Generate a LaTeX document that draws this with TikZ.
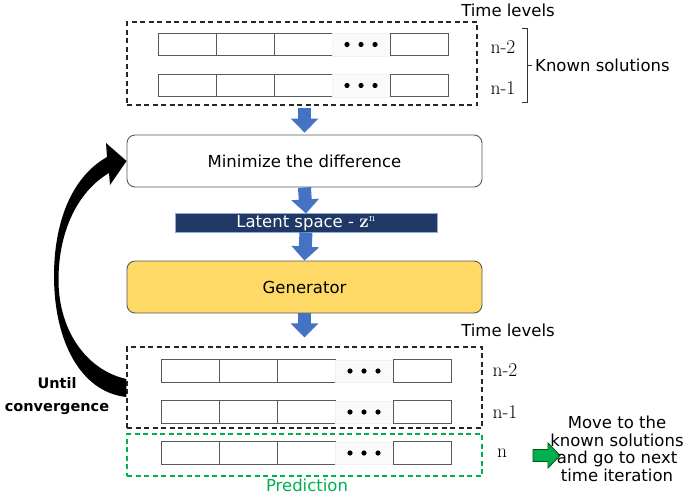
\documentclass[tikz,border=0pt]{standalone}
\usepackage{fontspec}
\setsansfont{DejaVu Sans}
\renewcommand{\familydefault}{\sfdefault}
\usetikzlibrary{arrows.meta}
\definecolor{flowblue}{HTML}{4472C4}
\definecolor{navy}{HTML}{203864}
\definecolor{lightrim}{HTML}{8FAADC}
\definecolor{genyellow}{HTML}{FFD966}
\definecolor{predgreen}{HTML}{00B050}
\definecolor{edgegray}{HTML}{595959}
\tikzset{
        txt/.style={inner sep=3pt, font=\fontsize{16.5}{17.5}\selectfont},
        lvl/.style={inner sep=2pt, font=\rmfamily\fontsize{19.5}{22}\selectfont},
        cell/.style={draw=edgegray, line width=0.9pt, minimum width=58pt, minimum height=22.5pt, inner sep=0pt},
        dotcell/.style={draw=black!6, fill=black!2, line width=0.5pt, minimum width=58pt, minimum height=22.5pt, inner sep=0pt},
        levels/.style={draw=black!85, dash pattern=on 5pt off 3.5pt, line width=1.2pt, inner sep=0pt},
        stage/.style={draw=edgegray, line width=0.9pt, rounded corners=8pt, minimum width=355pt, minimum height=52pt, font=\fontsize{16.5}{20}\selectfont},
        latent/.style={draw=lightrim, fill=navy, text=white, line width=0.6pt, minimum width=262pt, minimum height=18.5pt, inner sep=0pt, font=\fontsize{16.5}{18}\selectfont},
        flow/.style={draw=flowblue, line width=13pt, -{Triangle[width=27pt,length=14pt]}},
        bracket/.style={draw=black!80, line width=0.9pt},
        nextstep/.style={fill=predgreen, draw=black!65!green, line width=0.9pt, line join=miter}
          }
% one row of solution cells: prefix, left x, centre y
\newcommand{\solrow}[3]{%
  \foreach \i/\k in {1/cell,2/cell,3/cell,4/dotcell,5/cell}
    \node[\k] (#1-\i) at ({#2+(\i-0.5)*58},#3) {};
  \foreach \d in {-14,0,14}
    \fill ([xshift=\d pt]#1-4.center) circle (2.6pt);
}

\begin{document}
\begin{tikzpicture}[x=1pt, y=-1pt]
        \useasboundingbox (0,0) rectangle (685,496);

        \node[levels, minimum width=350pt, minimum height=83pt] (tl) at (302,63.5) {};
        \solrow{ka}{158}{44.5}
        \solrow{kb}{158}{85.5}
        \node[txt] (tt) at (508,10) {Time levels};
        \node[lvl] (ka-n) at (503,47) {n-2};
        \node[lvl] (kb-n) at (503,88) {n-1};
        \node[txt, anchor=west] (known) at (532,65) {Known solutions};
        \draw[bracket] (522,28) -| (527,102) -- (522,102);
        \draw[bracket] (527,65) -- (known.west);

        \node[stage] (min) at (304.5,161) {Minimize the difference};
        \node[latent] (lat) at (306,223) {Latent space - {\rmfamily\bfseries\fontsize{19}{18}\selectfont z}\textsuperscript{\rmfamily n}};
        \node[stage, fill=genyellow] (gen) at (304.5,287) {Generator};

        \node[levels, minimum width=355pt, minimum height=81pt] (bl) at (304.5,387.5) {};
        \node[levels, draw=predgreen, minimum width=355pt, minimum height=42pt] (pr) at (304.5,455) {};
        \solrow{pa}{161}{371}
        \solrow{pb}{161}{412}
        \solrow{pc}{161}{453}
        \node[txt] (bt) at (508,330) {Time levels};
        \node[lvl] (pa-n) at (505,370) {n-2};
        \node[lvl] (pb-n) at (505,412) {n-1};
        \node[lvl] (pc-n) at (502,453) {n};
        \node[txt, inner sep=0pt, text=predgreen] (predlbl) at (307,485.5) {Prediction};

        \draw[flow, shorten <=2pt, shorten >=2pt] (tl.south -| min.north) -- (min.north);
        \draw[flow] (min.south) -- (lat.north);
        \draw[flow] (lat.south) -- (gen.north);
        \draw[flow, shorten >=9pt] (gen.south) -- (bl.north);

        \fill ([yshift=8.5pt]bl.west) .. controls (86,370) and (58.5,330) .. (58.5,280)
          .. controls (58.5,228) and (80,190) .. (109,173) -- (110,185) -- (min.west)
          -- (106,143) -- (107,157) .. controls (70,178) and (54,225) .. (54,276)
          .. controls (54,340) and (80,392) .. ([yshift=-9.5pt]bl.west) -- cycle;
        \node[txt, font=\bfseries\fontsize{14.5}{23}\selectfont, align=center] (until) at (57,396) {Until\\convergence};

        \coordinate (go) at (546,455.5);
        \filldraw[nextstep] (533,449.5) -- (548,449.5) -- (548,443) -- (560,455.5)
          -- (548,468) -- (548,461.5) -- (533,461.5) -- cycle;
        \node[txt, align=center] (move) at (617,449) {Move to the\\known solutions\\and go to next\\time iteration};
      \end{tikzpicture}
\end{document}
